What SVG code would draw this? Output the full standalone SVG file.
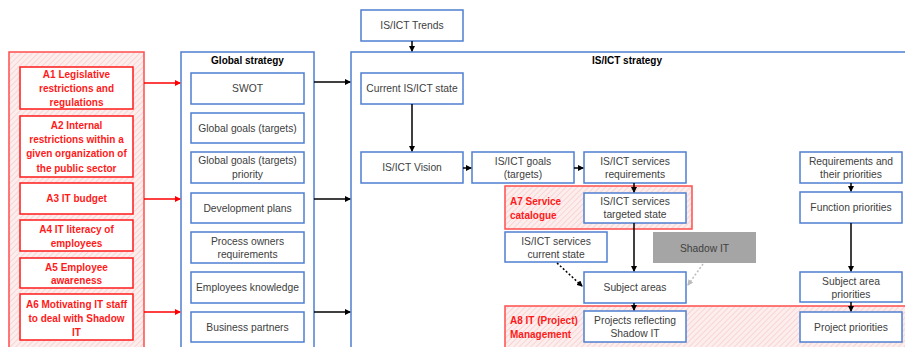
<svg xmlns="http://www.w3.org/2000/svg" width="905" height="347" viewBox="0 0 905 347">
<defs>
<pattern id="hatch" width="4" height="4" patternUnits="userSpaceOnUse" patternTransform="rotate(45)">
<rect width="4" height="4" fill="#fdeeee"/>
<line x1="0" y1="0" x2="0" y2="4" stroke="#f7cccc" stroke-width="1.5"/>
</pattern>
<marker id="ab" markerWidth="6" markerHeight="6" refX="5" refY="3" orient="auto" markerUnits="userSpaceOnUse">
<path d="M0,0 L6,3 L0,6 Z" fill="#000"/>
</marker>
<marker id="ar" markerWidth="6" markerHeight="6" refX="5" refY="3" orient="auto" markerUnits="userSpaceOnUse">
<path d="M0,0 L6,3 L0,6 Z" fill="#ff0000"/>
</marker>
<marker id="ag" markerWidth="6" markerHeight="6" refX="5" refY="3" orient="auto" markerUnits="userSpaceOnUse">
<path d="M0,0 L6,3 L0,6 Z" fill="#bbb"/>
</marker>
</defs>
<style>
.bb{fill:#fff;stroke:#4f7fd0;stroke-width:1.5}
.bc{fill:none;stroke:#4f7fd0;stroke-width:1.5}
.rb{fill:#fff;stroke:#ff1a1a;stroke-width:1.5}
.ra{fill:url(#hatch);stroke:#ff4d4d;stroke-width:1.5}
.t{font-family:"Liberation Sans",Arial,sans-serif;font-size:10.3px;fill:#404040;text-anchor:middle}
.tb{font-family:"Liberation Sans",Arial,sans-serif;font-size:10px;font-weight:bold;fill:#000;text-anchor:middle}
.tr{font-family:"Liberation Sans",Arial,sans-serif;font-size:10px;font-weight:bold;fill:#ff1a1a;text-anchor:middle}
.trl{font-family:"Liberation Sans",Arial,sans-serif;font-size:10px;font-weight:bold;fill:#ff1a1a;text-anchor:start}
.cb{stroke:#000;stroke-width:1.5;fill:none;marker-end:url(#ab)}
.cr{stroke:#ff0000;stroke-width:1.5;fill:none;marker-end:url(#ar)}
</style>
<rect width="905" height="347" fill="#fff"/>

<g id="attrs">
<rect class="ra" x="9" y="52" width="135" height="300"/>
</g>
<g id="a1"><rect class="rb" x="20" y="67" width="113" height="42"/>
<text class="tr" x="76.5" y="78">A1 Legislative</text><text class="tr" x="76.5" y="92">restrictions and</text><text class="tr" x="76.5" y="106">regulations</text></g>
<g id="a2"><rect class="rb" x="20" y="116" width="113" height="61"/>
<text class="tr" x="76.5" y="128.5">A2 Internal</text><text class="tr" x="76.5" y="142.5">restrictions within a</text><text class="tr" x="76.5" y="157">given organization of</text><text class="tr" x="76.5" y="171.5">the public sector</text></g>
<g id="a3"><rect class="rb" x="20" y="183" width="113" height="31"/>
<text class="tr" x="76.5" y="202">A3 IT budget</text></g>
<g id="a4"><rect class="rb" x="20" y="220" width="113" height="31"/>
<text class="tr" x="76.5" y="232.5">A4 IT literacy of</text><text class="tr" x="76.5" y="246.5">employees</text></g>
<g id="a5"><rect class="rb" x="20" y="258" width="113" height="30"/>
<text class="tr" x="76.5" y="270.5">A5 Employee</text><text class="tr" x="76.5" y="284">awareness</text></g>
<g id="a6"><rect class="rb" x="20" y="294" width="113" height="46"/>
<text class="tr" x="76.5" y="307.5">A6 Motivating IT staff</text><text class="tr" x="76.5" y="321.5">to deal with Shadow</text><text class="tr" x="76.5" y="335.5">IT</text></g>

<g id="global-strategy"><rect class="bc" x="181" y="52" width="133" height="300"/>
<text class="tb" x="247.5" y="63.5">Global strategy</text></g>
<g id="swot"><rect class="bb" x="191" y="73" width="113" height="31"/><text class="t" x="247.5" y="92">SWOT</text></g>
<g id="gg"><rect class="bb" x="191" y="113" width="113" height="30"/><text class="t" x="247.5" y="131.5">Global goals (targets)</text></g>
<g id="ggp"><rect class="bb" x="191" y="152" width="113" height="31"/><text class="t" x="247.5" y="163.5">Global goals (targets)</text><text class="t" x="247.5" y="178">priority</text></g>
<g id="dev"><rect class="bb" x="191" y="193" width="113" height="30"/><text class="t" x="247.5" y="211.5">Development plans</text></g>
<g id="pown"><rect class="bb" x="191" y="232" width="113" height="31"/><text class="t" x="247.5" y="244.5">Process owners</text><text class="t" x="247.5" y="258">requirements</text></g>
<g id="empk"><rect class="bb" x="191" y="272" width="113" height="31"/><text class="t" x="247.5" y="291">Employees knowledge</text></g>
<g id="bp"><rect class="bb" x="191" y="312" width="113" height="30"/><text class="t" x="247.5" y="330.5">Business partners</text></g>

<g id="isict-strategy"><rect class="bc" x="351" y="52" width="570" height="300"/>
<text class="tb" x="627" y="63.5">IS/ICT strategy</text></g>

<g id="a7"><rect class="ra" x="505" y="186" width="187" height="43"/>
<text class="trl" x="510" y="204.5">A7 Service</text><text class="trl" x="510" y="218.5">catalogue</text></g>
<g id="a8"><rect class="ra" x="505" y="306" width="420" height="50"/>
<text class="trl" x="510" y="323.5">A8 IT (Project)</text><text class="trl" x="510" y="337.5">Management</text></g>

<g id="trends"><rect class="bb" x="361" y="10" width="102" height="31"/><text class="t" x="412" y="29">IS/ICT Trends</text></g>
<g id="current"><rect class="bb" x="361" y="73" width="102" height="31"/><text class="t" x="412" y="92">Current IS/ICT state</text></g>
<g id="vision"><rect class="bb" x="361" y="152" width="102" height="31"/><text class="t" x="412" y="171">IS/ICT Vision</text></g>
<g id="goals"><rect class="bb" x="472" y="152" width="102" height="31"/><text class="t" x="523" y="164.5">IS/ICT goals</text><text class="t" x="523" y="177.5">(targets)</text></g>
<g id="sreq"><rect class="bb" x="584" y="152" width="102" height="31"/><text class="t" x="635" y="164.5">IS/ICT services</text><text class="t" x="635" y="177.5">requirements</text></g>
<g id="starget"><rect class="bb" x="584" y="193" width="102" height="30"/><text class="t" x="635" y="204.5">IS/ICT services</text><text class="t" x="635" y="218">targeted state</text></g>
<g id="scurrent"><rect class="bb" x="505" y="232" width="102" height="30"/><text class="t" x="556" y="244.5">IS/ICT services</text><text class="t" x="556" y="258">current state</text></g>
<g id="shadow"><rect x="653" y="232" width="103" height="31" fill="#a5a5a5"/><text class="t" x="704.5" y="251.5">Shadow IT</text></g>
<g id="subject"><rect class="bb" x="584" y="272" width="102" height="31"/><text class="t" x="635" y="291">Subject areas</text></g>
<g id="projects"><rect class="bb" x="584" y="311" width="102" height="31"/><text class="t" x="635" y="323.5">Projects reflecting</text><text class="t" x="635" y="337">Shadow IT</text></g>

<g id="reqprio"><rect class="bb" x="800" y="152" width="102" height="31"/><text class="t" x="851" y="164.5">Requirements and</text><text class="t" x="851" y="178">their priorities</text></g>
<g id="funcprio"><rect class="bb" x="800" y="192" width="102" height="31"/><text class="t" x="851" y="211">Function priorities</text></g>
<g id="subjprio"><rect class="bb" x="800" y="272" width="102" height="30"/><text class="t" x="851" y="284.5">Subject area</text><text class="t" x="851" y="298">priorities</text></g>
<g id="projprio"><rect class="bb" x="800" y="312" width="102" height="30"/><text class="t" x="851" y="330.5">Project priorities</text></g>

<g id="connectors">
<line class="cr" x1="144" y1="83" x2="180" y2="83"/>
<line class="cr" x1="144" y1="199" x2="180" y2="199"/>
<line class="cr" x1="144" y1="312" x2="180" y2="312"/>
<line class="cb" x1="314" y1="82" x2="350" y2="82"/>
<line class="cb" x1="314" y1="199" x2="350" y2="199"/>
<line class="cb" x1="314" y1="312" x2="350" y2="312"/>
<line class="cb" x1="412" y1="41" x2="412" y2="51"/>
<line class="cb" x1="412" y1="104" x2="412" y2="151"/>
<line class="cb" x1="463" y1="168" x2="471" y2="168"/>
<line class="cb" x1="574" y1="168" x2="583" y2="168"/>
<line class="cb" x1="634" y1="183" x2="634" y2="192"/>
<line class="cb" x1="634" y1="223" x2="634" y2="271"/>
<line class="cb" x1="634" y1="303" x2="634" y2="310"/>
<line class="cb" x1="557" y1="263" x2="582" y2="286" stroke-dasharray="2,2"/>
<line x1="703" y1="264" x2="688" y2="285" stroke="#bbb" stroke-width="1.5" stroke-dasharray="2,2" marker-end="url(#ag)"/>
<line class="cb" x1="851" y1="183" x2="851" y2="191"/>
<line class="cb" x1="851" y1="223" x2="851" y2="271"/>
<line class="cb" x1="851" y1="302" x2="851" y2="311"/>
</g>
</svg>
